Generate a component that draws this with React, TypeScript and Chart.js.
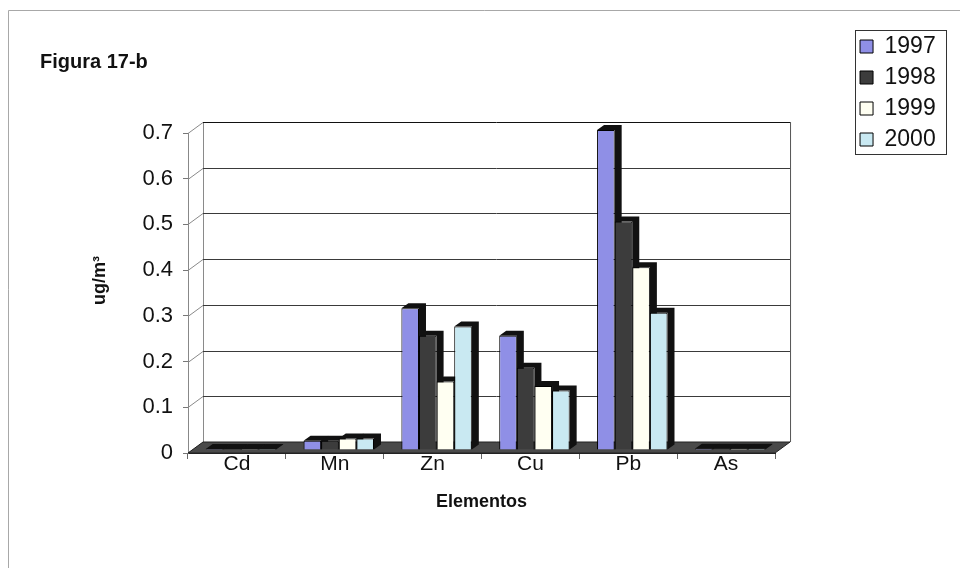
import React, { useEffect, useRef } from "react";
import { Chart, registerables } from "chart.js";

Chart.register(...registerables);

const categories = ["Cd", "Mn", "Zn", "Cu", "Pb", "As"];
const seriesNames = ["1997", "1998", "1999", "2000"];
const values1997 = [0.002, 0.02, 0.31, 0.25, 0.7, 0.003];
const values1998 = [0.002, 0.02, 0.25, 0.18, 0.5, 0.003];
const values1999 = [0.002, 0.025, 0.15, 0.14, 0.4, 0.003];
const values2000 = [0.002, 0.025, 0.27, 0.13, 0.3, 0.003];
const seriesColors = ["#8f8fe6", "#3c3c3c", "#fffff2", "#c9e9f2"];
const yMin = 0;
const yMax = 0.7;
const yStep = 0.1;

const FONT = "'Liberation Sans', Arial, sans-serif";
const WALL_DX = 15;
const WALL_DY = 11;
const BAR_SHIFT_X = 4;
const BAR_SHIFT_Y = 3;
const BAR_DX = 7;
const BAR_DY = 5;

const threeD = {
  id: "threeD",
  beforeDraw(chart: any) {
    const ctx = chart.ctx;
    ctx.save();
    ctx.fillStyle = "#ffffff";
    ctx.fillRect(0, 0, chart.width, chart.height);
    ctx.strokeStyle = "#a8a8a8";
    ctx.lineWidth = 1;
    ctx.beginPath();
    ctx.moveTo(8.5, chart.height);
    ctx.lineTo(8.5, 10.5);
    ctx.lineTo(chart.width, 10.5);
    ctx.stroke();
    ctx.restore();
  },
  beforeDatasetsDraw(chart: any) {
    const ctx = chart.ctx;
    const { left, right, top, bottom } = chart.chartArea;
    const ys = chart.scales.y;
    ctx.save();
    ctx.strokeStyle = "#8a8a8a";
    ctx.lineWidth = 1;
    for (let v = yMin; v <= yMax + 1e-9; v += yStep) {
      const py = Math.round(ys.getPixelForValue(v)) + 0.5;
      ctx.beginPath();
      ctx.moveTo(left, py);
      ctx.lineTo(left + WALL_DX, py - WALL_DY);
      ctx.stroke();
    }
    ctx.beginPath();
    ctx.moveTo(left + WALL_DX + 0.5, top - WALL_DY);
    ctx.lineTo(left + WALL_DX + 0.5, bottom - WALL_DY);
    ctx.stroke();
    for (let v = yMin; v <= yMax + 1e-9; v += yStep) {
      const py = Math.round(ys.getPixelForValue(v)) - WALL_DY + 0.5;
      ctx.strokeStyle = v > yMax - 1e-6 ? "#111" : "#3a3a3a";
      ctx.beginPath();
      ctx.moveTo(left + WALL_DX, py);
      ctx.lineTo(right + WALL_DX, py);
      ctx.stroke();
    }
    ctx.strokeStyle = "#555";
    ctx.beginPath();
    ctx.moveTo(right + WALL_DX + 0.5, top - WALL_DY);
    ctx.lineTo(right + WALL_DX + 0.5, bottom - WALL_DY);
    ctx.stroke();
    ctx.fillStyle = "#4a4a4a";
    ctx.strokeStyle = "#222";
    ctx.beginPath();
    ctx.moveTo(left, bottom);
    ctx.lineTo(right, bottom);
    ctx.lineTo(right + WALL_DX, bottom - WALL_DY);
    ctx.lineTo(left + WALL_DX, bottom - WALL_DY);
    ctx.closePath();
    ctx.fill();
    ctx.stroke();
    ctx.restore();

    ctx.save();
    ctx.translate(BAR_SHIFT_X, -BAR_SHIFT_Y);
    ctx.fillStyle = "#111";
    chart.data.datasets.forEach((_d: any, i: number) => {
      const meta = chart.getDatasetMeta(i);
      meta.data.forEach((bar: any) => {
        const { x, y, base, width } = bar.getProps(["x", "y", "base", "width"], true);
        const l = x - width / 2;
        const r = x + width / 2;
        ctx.beginPath();
        ctx.moveTo(l, y);
        ctx.lineTo(l + BAR_DX, y - BAR_DY);
        ctx.lineTo(r + BAR_DX, y - BAR_DY);
        ctx.lineTo(r + BAR_DX, base - BAR_DY);
        ctx.lineTo(r, base);
        ctx.lineTo(r, y);
        ctx.closePath();
        ctx.fill();
      });
    });
  },
  afterDatasetsDraw(chart: any) {
    chart.ctx.restore();
  },
  afterDraw(chart: any) {
    const lg = chart.legend;
    if (!lg || !lg.legendHitBoxes || !lg.legendHitBoxes.length) return;
    const hb = lg.legendHitBoxes;
    let minX = Infinity, maxX = -Infinity;
    hb.forEach((h: any) => {
      minX = Math.min(minX, h.left);
      maxX = Math.max(maxX, h.left + h.width);
    });
    const t = hb[0].top - 5;
    const b = hb[hb.length - 1].top + hb[hb.length - 1].height + 3;
    const ctx = chart.ctx;
    ctx.save();
    ctx.strokeStyle = "#333";
    ctx.lineWidth = 1;
    ctx.strokeRect(Math.round(minX - 5) + 0.5, Math.round(t) + 0.5, Math.round(maxX - minX + 15), Math.round(b - t));
    ctx.restore();
  },
};

export default function App() {
  const ref = useRef<HTMLCanvasElement>(null);
  useEffect(() => {
    const all = [values1997, values1998, values1999, values2000];
    const chart = new Chart(ref.current as HTMLCanvasElement, {
      type: "bar",
      data: {
        labels: categories,
        datasets: all.map((vals, i) => ({
          label: seriesNames[i],
          data: vals,
          backgroundColor: seriesColors[i],
          borderColor: "#000",
          borderWidth: 1,
          categoryPercentage: 0.72,
          barPercentage: 1.0,
          clip: false as any,
        })),
      },
      options: {
        responsive: false,
        animation: false,
        layout: { padding: { left: 40, top: 27, right: 14.3, bottom: 0 } },
        plugins: {
          tooltip: { enabled: false },
          title: {
            display: true,
            text: "Figura 17-b",
            align: "start",
            color: "#111",
            font: { family: FONT, size: 20, weight: "bold" },
            padding: { top: 23, bottom: 59 },
          },
          legend: {
            display: true,
            position: "right",
            align: "start",
            labels: {
              color: "#111",
              font: { family: FONT, size: 23 },
              boxWidth: 13,
              boxHeight: 13,
              padding: 8,
            },
          },
        },
        scales: {
          x: {
            grid: { display: true, drawOnChartArea: false, drawTicks: true, tickLength: 6, color: "#666", offset: true },
            border: { display: true, color: "#222" },
            ticks: { color: "#111", font: { family: FONT, size: 21 }, padding: -7 },
            title: {
              display: true,
              text: "Elementos",
              color: "#111",
              font: { family: FONT, size: 18, weight: "bold" },
              padding: { top: 0, bottom: 55 },
            },
            afterFit: (s: any) => {
              s.height = 115;
            },
          },
          y: {
            min: yMin,
            max: yMax,
            grid: { display: true, drawOnChartArea: false, drawTicks: true, tickLength: 5, color: "#777" },
            border: { display: true, color: "#888" },
            ticks: {
              stepSize: yStep,
              color: "#111",
              font: { family: FONT, size: 22 },
              padding: 10,
              callback: (v: any) => (Math.abs(v) < 1e-9 ? "0" : Number(v).toFixed(1)),
            },
            title: {
              display: true,
              text: "     ug/m³",
              color: "#111",
              font: { family: FONT, size: 18, weight: "bold" },
              padding: { top: 49, bottom: 0 },
            },
            afterFit: (s: any) => {
              s.width = 148;
            },
          },
          yr: {
            type: "linear",
            position: "right",
            display: true,
            grid: { display: false },
            border: { display: false },
            ticks: { display: false },
            afterFit: (s: any) => {
              s.width = 77;
            },
          },
        },
      },
      plugins: [threeD],
    } as any);
    return () => chart.destroy();
  }, []);
  return (
    <div style={{ position: "fixed", left: 0, top: 0, width: 960, height: 568, background: "#fff" }}>
      <canvas ref={ref} width={960} height={568} style={{ display: "block" }} />
    </div>
  );
}
